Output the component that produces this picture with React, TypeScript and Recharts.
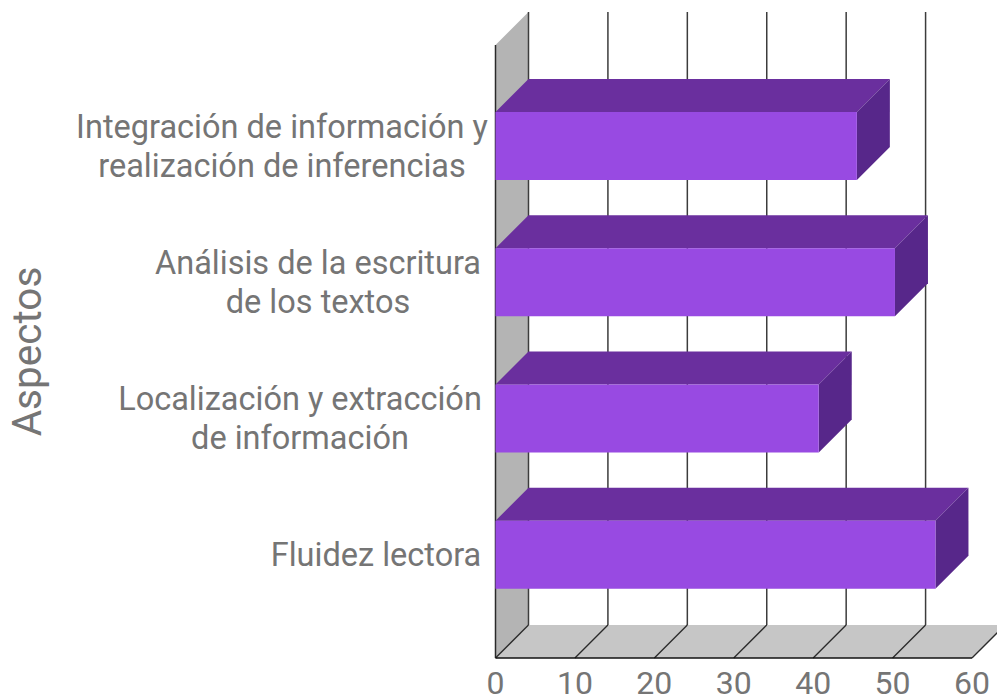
import React from 'react';
import { BarChart, Bar, XAxis, YAxis, CartesianGrid, ReferenceArea } from 'recharts';

const categories = [
  'Integración de información y\nrealización de inferencias',
  'Análisis de la escritura\nde los textos',
  'Localización y extracción\nde información',
  'Fluidez lectora',
];
const values = [45.5, 50.3, 40.7, 55.4];
const xTicks = [0, 10, 20, 30, 40, 50, 60];
const labelCenters = [282, 318, 300, 376];

const data = categories.map((name, i) => ({ name, value: values[i] }));

const DEPTH = 33;
const PAD_TOP = 33;
const PAD_BOTTOM = 35;
const TEXT = '#757575';
const FONT = 'Roboto';

const BarShape = (p: any) => {
  const { x, y, width, height } = p;
  const d = DEPTH;
  return (
    <g>
      <polygon points={`${x},${y} ${x + d},${y - d} ${x + width + d},${y - d} ${x + width},${y}`} fill="#6a2f9e" />
      <polygon points={`${x + width},${y} ${x + width + d},${y - d} ${x + width + d},${y + height - d} ${x + width},${y + height}`} fill="#57278a" />
      <rect x={x} y={y} width={width} height={height} fill="#984ae2" />
    </g>
  );
};

const Walls = (p: any) => {
  const { x, y, width, height } = p;
  const d = DEPTH;
  const t = y - PAD_TOP;
  const b = y + height + PAD_BOTTOM;
  return (
    <g>
      <polygon points={`${x},${t} ${x + d},${t - d} ${x + d},${b - d} ${x},${b}`} fill="#b4b4b4" />
      <polygon points={`${x},${b} ${x + d},${b - d} ${x + width + d},${b - d} ${x + width},${b}`} fill="#c6c6c6" />
    </g>
  );
};

const GridLine = (p: any) => {
  const { x1, y1, y2 } = p;
  const d = DEPTH;
  return (
    <g>
      {x1 < 960 && <line x1={x1 + d} x2={x1 + d} y1={y1 - d} y2={y2 - d} stroke="#3c3c3c" strokeWidth={1.5} />}
      <line x1={x1} x2={x1 + d} y1={y2} y2={y2 - d} stroke="#2a2a2a" strokeWidth={1.3} />
    </g>
  );
};

const CategoryTick = (p: any) => {
  const { y, payload, index } = p;
  const lines = String(payload.value).split('\n');
  const lh = 39;
  const start = y - ((lines.length - 1) * lh) / 2 + 11;
  return (
    <text textAnchor="middle" fontFamily={FONT} fontSize={32.5} fill={TEXT}>
      {lines.map((l: string, i: number) => (
        <tspan key={i} x={labelCenters[index]} y={start + i * lh}>{l}</tspan>
      ))}
    </text>
  );
};

const Frame = (p: any) => {
  const { x, y, height, width } = p;
  const t = y - PAD_TOP;
  const b = y + height + PAD_BOTTOM;
  return (
    <g>
      <line x1={x} x2={x} y1={t} y2={b} stroke="#2a2a2a" strokeWidth={1.5} />
      <line x1={x} x2={x + width} y1={b} y2={b} stroke="#111" strokeWidth={1.5} />
    </g>
  );
};

export default function App() {
  const wallProps: any = { zIndex: -200 };
  return (
    <div style={{ position: 'absolute', left: 0, top: 0, width: 997, height: 696, background: '#fff' }}>
      <BarChart
        width={997}
        height={696}
        data={data}
        layout="vertical"
        margin={{ top: 45, right: 25, bottom: 0, left: 0 }}
      >
        <ReferenceArea x1={0} x2={60} shape={<Walls />} ifOverflow="visible" {...wallProps} />
        <CartesianGrid horizontal={false} vertical={(props: any) => <GridLine key={props.key ?? props.x1} {...props} />} />
        <ReferenceArea x1={0} x2={60} shape={<Frame />} ifOverflow="visible" />
        <XAxis
          type="number"
          domain={[0, 60]}
          ticks={xTicks}
          height={38}
          axisLine={false}
          tickLine={false}
          interval={0}
          tick={{ fontFamily: FONT, fontSize: 32, fill: TEXT }}
          tickMargin={7}
        />
        <YAxis
          type="category"
          dataKey="name"
          width={495.5}
          axisLine={false}
          tickLine={false}
          interval={0}
          padding={{ top: PAD_TOP, bottom: PAD_BOTTOM }}
          tick={<CategoryTick />}
          label={{ value: 'Aspectos', angle: -90, position: 'insideLeft', offset: 27, style: { fontFamily: FONT, fontSize: 40.5, fill: TEXT, textAnchor: 'middle' } }}
        />
        <Bar dataKey="value" barSize={68} shape={<BarShape />} isAnimationActive={false} />
      </BarChart>
    </div>
  );
}
